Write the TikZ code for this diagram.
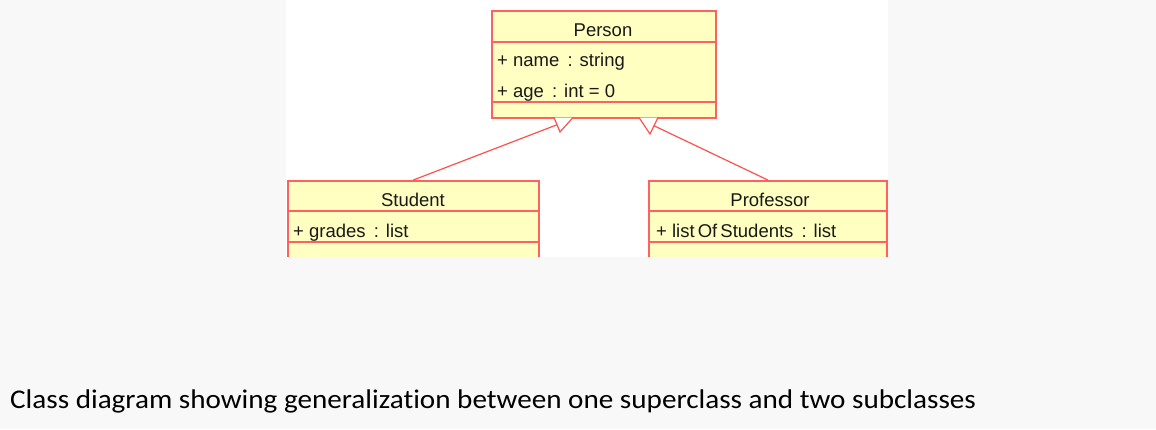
\documentclass[tikz,border=0pt]{standalone}
\usepackage{fontspec}
\usetikzlibrary{calc}
\setmainfont{Liberation Sans}
\newfontfamily\capfont[FakeStretch=1.08,Ligatures=NoCommon]{Carlito}
\definecolor{bgc}{RGB}{248,248,248}
\definecolor{boxfill}{RGB}{255,255,194}
\definecolor{boxred}{RGB}{255,96,96}
\definecolor{linered}{RGB}{255,80,80}
\begin{document}
\begin{tikzpicture}[x=1pt,y=-1pt,
  umlbox/.style={draw=boxred, fill=boxfill, line width=1.6pt, inner sep=0pt, anchor=north west},
  sepline/.style={draw=boxred, line width=1.6pt},
  umltitle/.style={font=\fontsize{18.5}{20}\selectfont, inner sep=0pt, anchor=base, text=black!90},
  umlattr/.style={font=\fontsize{18.5}{20}\selectfont, inner sep=0pt, anchor=base west, text=black!90},
  genline/.style={draw=linered, line width=1.2pt},
  gentri/.style={draw=linered, line width=1.2pt, fill=white, line join=miter}
]
\useasboundingbox (0,0) rectangle (1156,429);
\fill[bgc] (0,0) rectangle (1156,429);
\fill[white] (286,0) rectangle (888,256.5);

\begin{scope}
\clip (280,0) rectangle (895,256.5);
% Person
\node[umlbox, minimum width=224pt, minimum height=107pt] (person) at (491,10) {};
\draw[sepline] (491,42) -- (715,42);
\draw[sepline] (491,102) -- (715,102);
\node[umltitle] (personT) at (603,36) {Person};
\node[umlattr] (pname) at (497,66.5) {+ name\, : string};
\node[umlattr] (page) at (497,97.5) {+ age\, : int = 0};
% Student
\node[umlbox, minimum width=251pt, minimum height=90pt] (student) at (287,180) {};
\draw[sepline] (287,211) -- (538,211);
\draw[sepline] (287,242) -- (538,242);
\node[umltitle] (studentT) at (413,206.5) {Student};
\node[umlattr] (sgrades) at (293,237) {+ grades\, : list};
% Professor
\node[umlbox, minimum width=238pt, minimum height=90pt] (prof) at (648,180) {};
\draw[sepline] (648,211) -- (886,211);
\draw[sepline] (648,242) -- (886,242);
\node[umltitle] (profT) at (770,206.5) {Professor};
\node[umlattr] (plist) at (656,237) {+ list\,Of\,Students\, : list};
\end{scope}

% generalization arrowheads
\coordinate (ta1) at (554,117.5);
\coordinate (ta2) at (573,117.5);
\coordinate (ta3) at (560,132);
\coordinate (tb1) at (639,117.5);
\coordinate (tb2) at (658,117.5);
\coordinate (tb3) at (650,134);
\draw[gentri] (ta1) -- (ta3) -- (ta2);
\draw[gentri] (tb1) -- (tb3) -- (tb2);
\coordinate (ga) at ($(ta1)!0.5!(ta3)$);
\coordinate (gb) at ($(tb2)!0.5!(tb3)$);
\draw[genline] (student.north) -- (ga);
\draw[genline] (prof.north) -- (gb);

\node[font=\capfont\fontsize{27}{30}\selectfont, anchor=base west, inner sep=0pt] (caption) at (10,408) {Class diagram showing generalization between one superclass and two subclasses};
\end{tikzpicture}
\end{document}
